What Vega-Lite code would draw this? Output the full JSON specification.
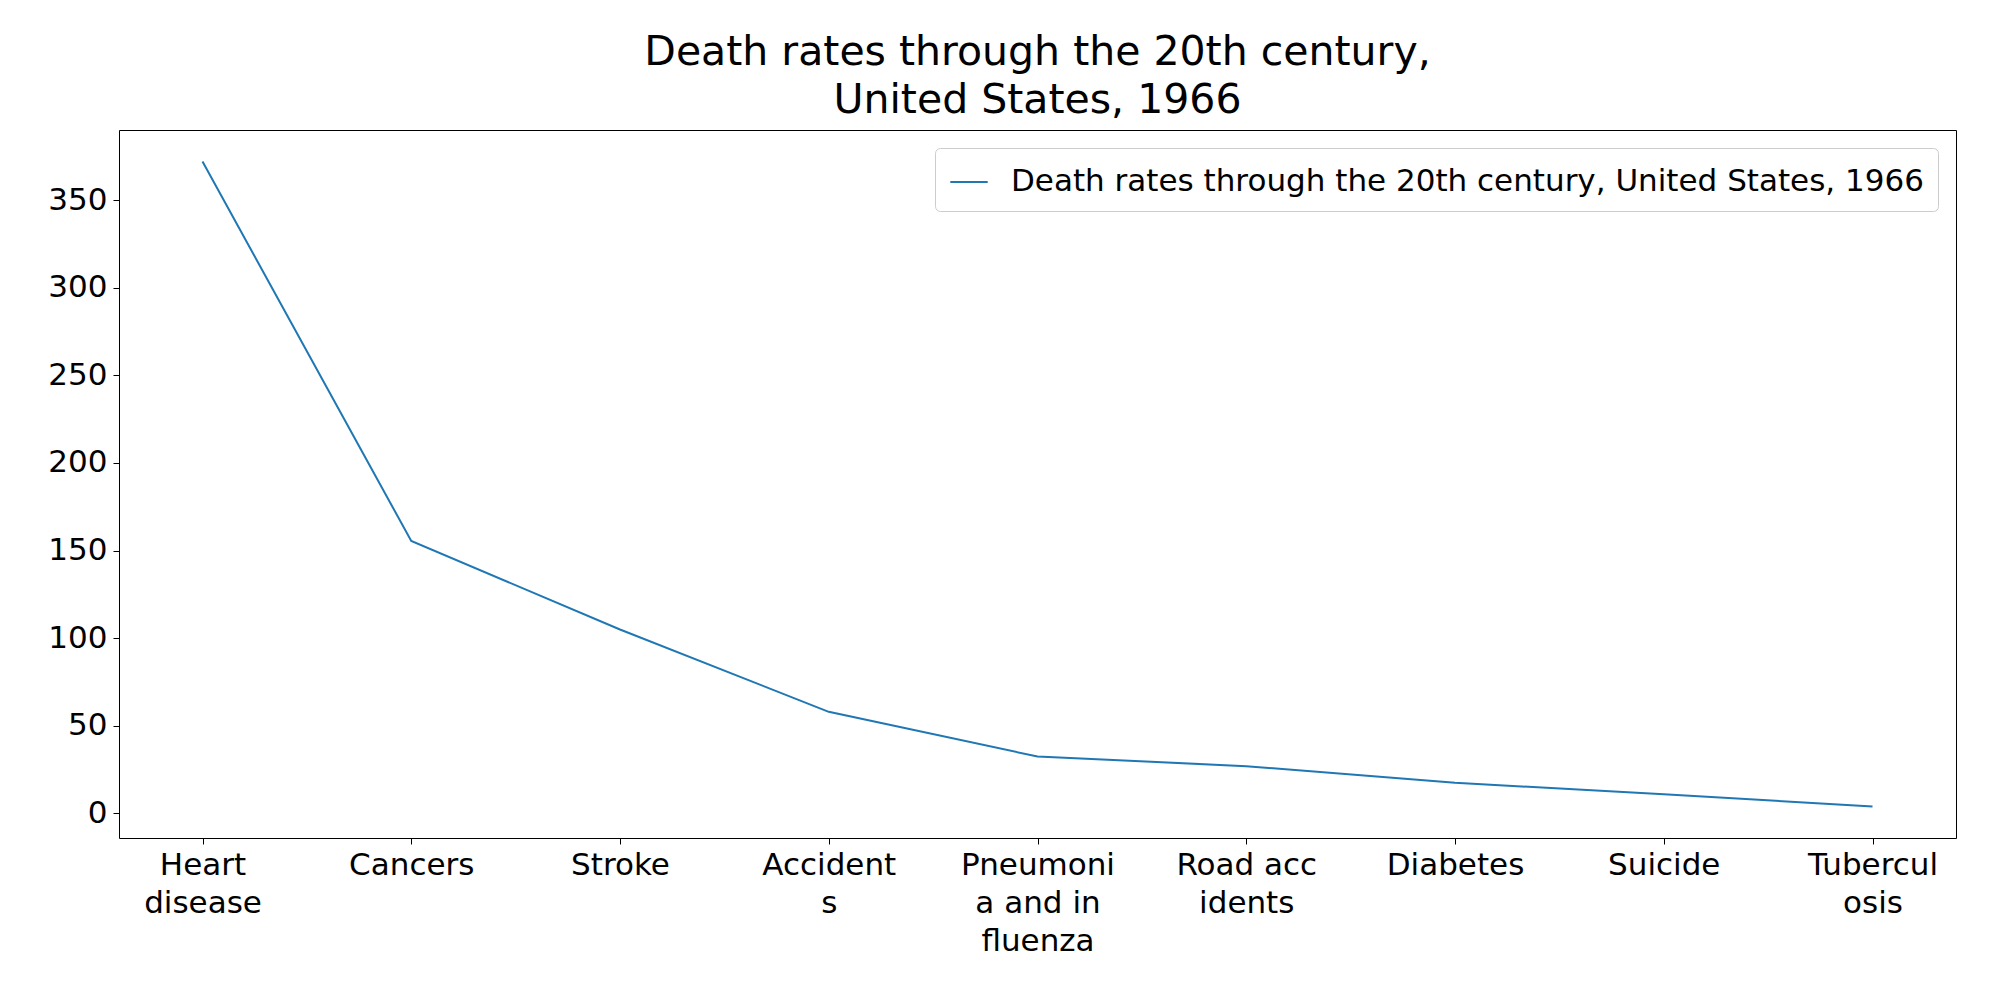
{
  "$schema": "https://vega.github.io/schema/vega-lite/v6.json",
  "autosize": "none",
  "width": 1837,
  "height": 708,
  "padding": {"left": 119, "top": 130, "right": 44, "bottom": 162},
  "title": {"text": ["Death rates through the 20th century,", "United States, 1966"], "fontSize": 41, "font": "DejaVu Sans", "fontWeight": "normal", "anchor": "middle", "offset": 8, "lineHeight": 48},
  "config": {
    "view": {"stroke": "black", "strokeWidth": 1},
    "axis": {"grid": false, "domain": false, "tickColor": "black", "tickSize": 6, "labelFont": "DejaVu Sans", "labelFontSize": 31, "labelColor": "black", "title": null}
  },
  "data": {"values": [
    {"cause": "Heart|disease", "rate": 372},
    {"cause": "Cancers", "rate": 155.5},
    {"cause": "Stroke", "rate": 105},
    {"cause": "Accident|s", "rate": 58},
    {"cause": "Pneumoni|a and in|fluenza", "rate": 32.5},
    {"cause": "Road acc|idents", "rate": 27},
    {"cause": "Diabetes", "rate": 17.5},
    {"cause": "Suicide", "rate": 11},
    {"cause": "Tubercul|osis", "rate": 4}
  ]},
  "mark": {"type": "line", "strokeWidth": 2},
  "encoding": {
    "x": {"field": "cause", "type": "nominal", "sort": null, "scale": {"type": "point", "padding": 0.4}, "axis": {"labelAngle": 0, "labelExpr": "split(datum.label, '|')", "labelLineHeight": 38, "labelPadding": 6}},
    "y": {"field": "rate", "type": "quantitative", "scale": {"domain": [-14, 390], "nice": false, "zero": false}, "axis": {"values": [0, 50, 100, 150, 200, 250, 300, 350], "labelPadding": 6}},
    "color": {"datum": "Death rates through the 20th century, United States, 1966", "type": "nominal", "scale": {"range": ["#1f77b4"]}, "legend": {"title": null, "orient": "top-right", "offset": 18, "symbolType": "stroke", "symbolSize": 1400, "symbolStrokeWidth": 2, "labelFontSize": 31, "labelFont": "DejaVu Sans", "labelLimit": 1500, "strokeColor": "#cccccc", "fillColor": "white", "cornerRadius": 5, "padding": 14, "labelOffset": 22}}
  }
}
